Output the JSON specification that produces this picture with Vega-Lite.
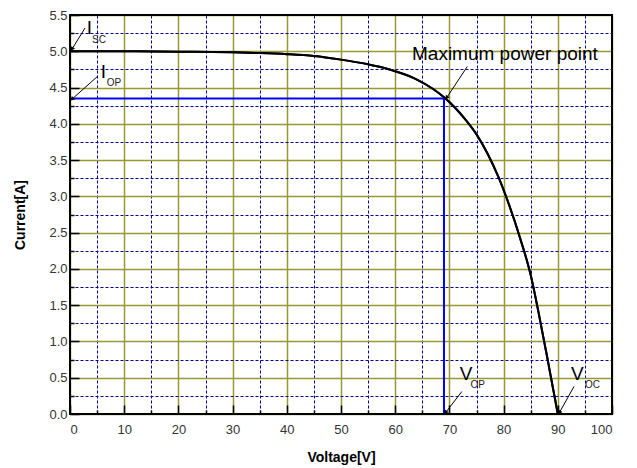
{
  "$schema": "https://vega.github.io/schema/vega-lite/v6.json",
  "width": 542,
  "height": 399,
  "autosize": {"type": "none"},
  "padding": {"left": 70, "top": 15, "right": 25, "bottom": 54},
  "background": "white",
  "config": {
    "view": {"stroke": null},
    "font": "Liberation Sans"
  },
  "datasets": {
    "curve": [
      {"V": 0, "I": 5.0}, {"V": 10, "I": 5.0}, {"V": 20, "I": 4.995}, {"V": 30, "I": 4.985},
      {"V": 35, "I": 4.975}, {"V": 40, "I": 4.96}, {"V": 45, "I": 4.935}, {"V": 50, "I": 4.885},
      {"V": 55, "I": 4.82}, {"V": 58, "I": 4.77}, {"V": 61, "I": 4.7}, {"V": 64, "I": 4.61},
      {"V": 67, "I": 4.48}, {"V": 69, "I": 4.365}, {"V": 71, "I": 4.225}, {"V": 73, "I": 4.055},
      {"V": 75, "I": 3.855}, {"V": 77, "I": 3.595}, {"V": 79, "I": 3.275}, {"V": 81, "I": 2.885},
      {"V": 83, "I": 2.435}, {"V": 85, "I": 1.915}, {"V": 86.5, "I": 1.38}, {"V": 88, "I": 0.8},
      {"V": 89, "I": 0.4}, {"V": 90, "I": 0.0}
    ],
    "mppPath": [{"k": 1, "V": 0, "I": 4.35}, {"k": 2, "V": 69, "I": 4.35}, {"k": 3, "V": 69, "I": 0}],
    "arrows": [
      {"name": "Isc", "x1": 2.77, "y1": 5.32, "x2": 0.37, "y2": 5.03},
      {"name": "Iop", "x1": 5.17, "y1": 4.66, "x2": 0.37, "y2": 4.34},
      {"name": "MPP", "x1": 73.3, "y1": 4.79, "x2": 69.5, "y2": 4.36},
      {"name": "Vop", "x1": 72.3, "y1": 0.31, "x2": 69.3, "y2": 0.02},
      {"name": "Voc", "x1": 93.0, "y1": 0.38, "x2": 90.3, "y2": 0.02}
    ],
    "bigLabels": [
      {"label": "I", "V": 3.6, "I": 5.32},
      {"label": "I", "V": 6.15, "I": 4.71},
      {"label": "V", "V": 73.06, "I": 0.55},
      {"label": "V", "V": 93.6, "I": 0.55}
    ],
    "subLabels": [
      {"label": "SC", "V": 4.06, "I": 5.16},
      {"label": "OP", "V": 6.77, "I": 4.56},
      {"label": "OP", "V": 73.9, "I": 0.4},
      {"label": "OC", "V": 95.0, "I": 0.4}
    ],
    "note": [{"label": "Maximum power point", "V": 63.1, "I": 4.88}],
    "frame": [{"x0": 0, "x1": 100, "y0": 0, "y1": 5.5}]
  },
  "resolve": {"axis": {"x": "independent", "y": "independent"}},
  "layer": [
    {
      "data": {"name": "curve"},
      "mark": {"type": "point", "opacity": 0},
      "encoding": {
        "x": {"field": "V", "type": "quantitative", "scale": {"domain": [0, 100], "nice": false},
          "axis": {"orient": "bottom", "values": [5, 15, 25, 35, 45, 55, 65, 75, 85, 95], "grid": true,
            "gridColor": "#000099", "gridDash": [3, 2], "gridWidth": 1, "tickSize": -4, "tickColor": "black",
            "tickWidth": 1.5, "labels": false, "domain": false, "title": null}},
        "y": {"field": "I", "type": "quantitative", "scale": {"domain": [0, 5.5], "nice": false},
          "axis": {"orient": "left", "values": [0.25, 0.75, 1.25, 1.75, 2.25, 2.75, 3.25, 3.75, 4.25, 4.75, 5.25], "grid": true,
            "gridColor": "#000099", "gridDash": [3, 2], "gridWidth": 1, "tickSize": -4, "tickColor": "black",
            "tickWidth": 1.5, "labels": false, "domain": false, "title": null}}
      }
    },
    {
      "data": {"name": "curve"},
      "mark": {"type": "line", "color": "black", "strokeWidth": 2, "interpolate": "monotone"},
      "encoding": {
        "x": {"field": "V", "type": "quantitative",
          "axis": {"orient": "bottom", "values": [0, 10, 20, 30, 40, 50, 60, 70, 80, 90, 100], "grid": true,
            "gridColor": "#999933", "gridWidth": 1.5, "tickSize": -9, "tickColor": "black", "tickWidth": 1.5,
            "domain": false, "labelOverlap": false, "labelFont": "Liberation Sans", "labelFontSize": 13, "labelColor": "#333333", "labelPadding": 18,
            "title": "Voltage[V]", "titleFont": "Liberation Sans", "titleFontSize": 14, "titleFontWeight": "bold", "titleColor": "black", "titlePadding": 14}},
        "y": {"field": "I", "type": "quantitative",
          "axis": {"orient": "left", "values": [0, 0.5, 1, 1.5, 2, 2.5, 3, 3.5, 4, 4.5, 5, 5.5], "format": ".1f", "grid": true,
            "gridColor": "#999933", "gridWidth": 1.5, "tickSize": -9, "tickColor": "black", "tickWidth": 1.5,
            "domain": false, "labelOverlap": false, "labelFont": "Liberation Sans", "labelFontSize": 13, "labelColor": "#333333", "labelPadding": 12,
            "title": "Current[A]", "titleFont": "Liberation Sans", "titleFontSize": 14, "titleFontWeight": "bold", "titleColor": "black", "titlePadding": 21}}
      }
    },
    {
      "data": {"name": "mppPath"},
      "mark": {"type": "line", "color": "#0000ff", "strokeWidth": 2},
      "encoding": {
        "x": {"field": "V", "type": "quantitative", "axis": null},
        "y": {"field": "I", "type": "quantitative", "axis": null},
        "order": {"field": "k", "type": "quantitative"}
      }
    },
    {
      "data": {"name": "curve"},
      "mark": {"type": "line", "color": "black", "strokeWidth": 2, "interpolate": "monotone"},
      "encoding": {
        "x": {"field": "V", "type": "quantitative", "axis": null},
        "y": {"field": "I", "type": "quantitative", "axis": null}
      }
    },
    {
      "data": {"name": "arrows"},
      "mark": {"type": "rule", "color": "black", "strokeWidth": 1},
      "encoding": {
        "x": {"field": "x1", "type": "quantitative", "axis": null},
        "y": {"field": "y1", "type": "quantitative", "axis": null},
        "x2": {"field": "x2"},
        "y2": {"field": "y2"}
      }
    },
    {
      "data": {"name": "arrows"},
      "transform": [{"filter": "datum.name === 'Isc'"}],
      "mark": {"type": "point", "shape": "triangle-up", "filled": true, "color": "black", "opacity": 1, "size": 22, "angle": 212},
      "encoding": {"x": {"field": "x2", "type": "quantitative", "axis": null}, "y": {"field": "y2", "type": "quantitative", "axis": null}}
    },
    {
      "data": {"name": "arrows"},
      "transform": [{"filter": "datum.name === 'Iop'"}],
      "mark": {"type": "point", "shape": "triangle-up", "filled": true, "color": "black", "opacity": 1, "size": 22, "angle": 228},
      "encoding": {"x": {"field": "x2", "type": "quantitative", "axis": null}, "y": {"field": "y2", "type": "quantitative", "axis": null}}
    },
    {
      "data": {"name": "arrows"},
      "transform": [{"filter": "datum.name === 'MPP'"}],
      "mark": {"type": "point", "shape": "triangle-up", "filled": true, "color": "black", "opacity": 1, "size": 22, "angle": 213},
      "encoding": {"x": {"field": "x2", "type": "quantitative", "axis": null}, "y": {"field": "y2", "type": "quantitative", "axis": null}}
    },
    {
      "data": {"name": "arrows"},
      "transform": [{"filter": "datum.name === 'Vop'"}],
      "mark": {"type": "point", "shape": "triangle-up", "filled": true, "color": "black", "opacity": 1, "size": 22, "angle": 216},
      "encoding": {"x": {"field": "x2", "type": "quantitative", "axis": null}, "y": {"field": "y2", "type": "quantitative", "axis": null}}
    },
    {
      "data": {"name": "arrows"},
      "transform": [{"filter": "datum.name === 'Voc'"}],
      "mark": {"type": "point", "shape": "triangle-up", "filled": true, "color": "black", "opacity": 1, "size": 22, "angle": 210},
      "encoding": {"x": {"field": "x2", "type": "quantitative", "axis": null}, "y": {"field": "y2", "type": "quantitative", "axis": null}}
    },
    {
      "data": {"name": "bigLabels"},
      "mark": {"type": "text", "fontSize": 19, "font": "Liberation Sans", "color": "black", "align": "center", "baseline": "middle"},
      "encoding": {
        "x": {"field": "V", "type": "quantitative", "axis": null},
        "y": {"field": "I", "type": "quantitative", "axis": null},
        "text": {"field": "label", "type": "nominal"}
      }
    },
    {
      "data": {"name": "subLabels"},
      "mark": {"type": "text", "fontSize": 10, "font": "Liberation Sans", "color": "#222222", "align": "left", "baseline": "middle"},
      "encoding": {
        "x": {"field": "V", "type": "quantitative", "axis": null},
        "y": {"field": "I", "type": "quantitative", "axis": null},
        "text": {"field": "label", "type": "nominal"}
      }
    },
    {
      "data": {"name": "note"},
      "mark": {"type": "text", "fontSize": 19, "font": "Liberation Sans", "color": "black", "align": "left", "baseline": "alphabetic"},
      "encoding": {
        "x": {"field": "V", "type": "quantitative", "axis": null},
        "y": {"field": "I", "type": "quantitative", "axis": null},
        "text": {"field": "label", "type": "nominal"}
      }
    },
    {
      "data": {"name": "frame"},
      "mark": {"type": "rect", "fillOpacity": 0, "stroke": "black", "strokeWidth": 2},
      "encoding": {
        "x": {"field": "x0", "type": "quantitative", "axis": null},
        "x2": {"field": "x1"},
        "y": {"field": "y0", "type": "quantitative", "axis": null},
        "y2": {"field": "y1"}
      }
    }
  ]
}
